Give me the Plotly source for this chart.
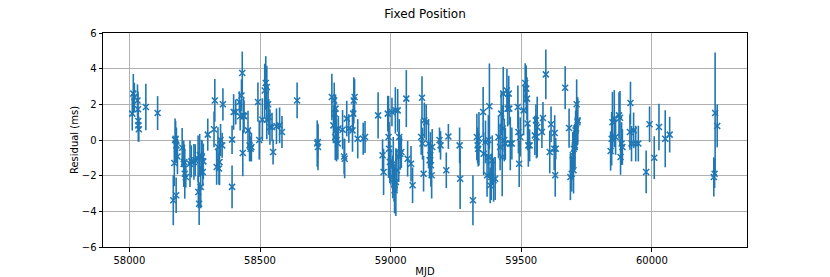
import plotly.graph_objects as go

# Observations: MJD, residual (ms), uncertainty (ms)
mjd = [58011, 58015, 58019, 58031, 58033, 58034, 58034, 58036, 58063, 58108,
       58168, 58172, 58175, 58179, 58180, 58184, 58177,
       58202, 58208, 58212, 58216, 58210,
       58232, 58237, 58247, 58252,
       58263, 58264, 58267, 58269, 58273, 58276, 58278, 58281, 58283,
       58300, 58327, 58324, 58334, 58339, 58343, 58345, 58349, 58355, 58358,
       58393, 58393, 58399, 58407, 58421, 58424, 58429, 58432, 58434, 58436, 58439,
       58454, 58460, 58464, 58467, 58492, 58497, 58509, 58518, 58522, 58526, 58526,
       58531, 58534, 58538, 58546, 58550, 58563, 58575, 58584, 58642,
       58719, 58721, 58722, 58775, 58781, 58784, 58786, 58788, 58789, 58791, 58793,
       58798, 58800, 58816, 58822, 58824, 58832, 58840, 58854, 58857, 58859, 58862,
       58874, 58895, 58902, 58952, 58969, 58973, 58989, 58992, 58994, 58997, 59001,
       59005, 59008, 59010, 59013, 59015, 59018, 59020, 59024, 59027, 59031, 59033,
       59037, 59041, 59060, 59065, 59078, 59084, 59117, 59120, 59122, 59126, 59129,
       59136, 59145, 59149, 59152, 59154, 59157, 59159, 59187, 59191, 59213, 59221,
       59264, 59266, 59315, 59330, 59333, 59335, 59338, 59354, 59356, 59363, 59369,
       59374, 59376, 59378, 59381, 59385, 59389, 59394, 59400, 59413, 59419, 59423,
       59427, 59429, 59431, 59435, 59439, 59445, 59448, 59452, 59454, 59458, 59464,
       59487, 59489, 59492, 59496, 59509, 59515, 59519, 59522, 59524, 59527, 59532,
       59552, 59556, 59558, 59561, 59579, 59583, 59594, 59609, 59614, 59626, 59628,
       59630, 59632, 59668, 59683, 59688, 59693, 59697, 59700, 59701, 59705, 59705,
       59708, 59710, 59712, 59715, 59716, 59842, 59846, 59849, 59856, 59861, 59874,
       59878, 59880, 59884, 59887, 59916, 59918, 59922, 59930, 59938, 59948,
       59978, 59991, 60009, 60027, 60051, 60068, 60237, 60240, 60242, 60250]
resid = [1.48, 2.60, 2.41, 2.22, 1.72, 1.07, 0.82, 0.60, 1.85, 1.51,
         -3.38, -1.29, 0.00, -3.10, -0.30, -0.92, 0.07,
         -0.43, -1.33, -1.89, -2.07, -1.23,
         -1.33, -1.20, -1.23, -1.14,
         -1.05, -2.92, -3.57, -0.86, -2.63, -0.99, -0.92, -1.79, -1.20,
         0.30, 2.22, 0.60, -1.51, -0.39, -1.60, -1.23, 0.00, -0.30, 2.00,
         -2.63, 0.02, 1.57, 1.57, 2.13, 1.33, 2.50, 3.76, -0.73, 1.38, 1.33,
         0.54, -0.30, -0.49, -0.40, 2.13, 0.00, 1.14, 2.78, 3.20, 2.97, 1.14,
         2.00, 1.29, 0.73, 0.73, -0.67, 0.77, 0.82, 0.45, 2.22,
         -0.20, -0.11, -0.39, 2.41, 0.82, 2.22, 1.48, 0.17, 1.76, 0.54, 0.00,
         -0.20, 0.64, 0.58, -0.92, -1.05, 1.20, 0.64, 0.54, 1.48, 2.22, 2.41,
         0.07, 0.07, 0.17, 1.38, -0.86, -1.79, 1.48, 0.17, -0.49, -1.23, -1.51,
         1.57, -2.07, -1.33, -2.45, -2.82, 1.66, -2.36, -1.70, 1.66, -0.95, 0.17,
         -0.77, -0.67, 2.32, -1.05, -1.33, -2.54, 0.17, 2.37, -0.20, -1.89, 1.10,
         1.00, -0.20, -1.14, -0.86, -1.42, -1.98, -0.39, 0.00, -0.30, -1.70, 0.20,
         -0.30, -2.17, -3.38, 0.17, -0.30, -0.49, 0.07, 1.57, -0.77, -0.11, -1.98,
         0.00, -0.95, 1.89, -2.54, -2.07, -1.14, -2.26, -2.17, 0.17, -0.39, 1.48,
         -0.95, 0.64, 2.60, 0.00, -0.20, 2.78, 1.76, 2.60, 1.76, -0.20, -0.20,
         1.85, 0.45, -1.33, 0.17, 1.66, 3.20, 2.88, 2.32, 0.92, -0.30, -0.30,
         0.26, 1.10, 0.17, 0.73, 0.45, 1.23, 3.68, -0.67, 0.88, -0.49, 0.39,
         -1.98, -0.49, 2.93, 0.67, -2.07, -1.89, -0.86, -1.70, -0.49, -0.39, -0.30,
         0.54, 0.64, 2.00, 1.00, 1.10, -0.62, 0.07, 1.00, 1.20, 0.17, 1.38,
         1.25, -0.95, -0.20, -0.39, 0.45, 2.07, -0.20, 0.54, -0.20, -0.20,
         -1.79, 0.88, -0.99, 0.73, 0.07, 0.30, -2.07, -1.89, 1.51, 0.79]
err = [0.95, 1.10, 0.80, 0.90, 1.00, 0.60, 0.90, 0.70, 1.30, 0.95,
       1.40, 1.30, 1.20, 1.00, 1.00, 1.00, 1.00,
       1.10, 1.30, 1.40, 0.60, 0.90,
       1.30, 0.90, 1.00, 0.90,
       1.30, 0.90, 1.20, 1.20, 1.20, 1.00, 0.90, 0.80, 1.00,
       0.90, 1.20, 1.00, 1.00, 1.10, 0.90, 1.30, 0.90, 0.70, 0.90,
       1.20, 0.80, 1.00, 0.70, 0.60, 0.80, 0.90, 1.20, 1.30, 1.00, 0.90,
       1.10, 0.90, 0.70, 0.80, 1.10, 1.10, 1.20, 1.50, 1.50, 1.20, 1.10,
       1.00, 1.00, 1.00, 0.80, 0.70, 1.00, 1.00, 0.90, 1.00,
       1.30, 0.90, 1.30, 1.30, 1.00, 1.00, 1.00, 1.30, 0.80, 1.30, 1.20,
       0.90, 0.70, 1.10, 1.00, 1.10, 1.00, 0.80, 1.20, 1.00, 1.30, 1.00,
       1.10, 0.90, 0.90, 1.30, 0.90, 1.30, 1.00, 2.30, 1.50, 1.20, 1.00,
       0.80, 1.20, 1.50, 1.00, 1.30, 1.30, 1.90, 1.20, 1.20, 1.40, 1.00,
       0.90, 0.90, 1.60, 1.00, 1.00, 1.00, 1.00, 1.20, 0.90, 1.00, 1.00,
       1.00, 1.30, 1.00, 1.30, 1.20, 1.30, 1.00, 0.70, 0.80, 1.00, 0.70,
       1.00, 1.70, 1.40, 1.30, 1.00, 1.00, 1.50, 1.40, 1.20, 1.20, 1.20,
       1.40, 1.20, 2.40, 1.00, 1.30, 1.40, 1.20, 1.20, 1.20, 1.30, 1.20,
       2.20, 1.30, 1.50, 1.20, 0.90, 1.20, 1.00, 1.00, 0.90, 1.50, 0.90,
       1.20, 1.20, 1.30, 1.10, 1.40, 1.10, 1.30, 1.20, 1.50, 1.20, 0.90,
       1.10, 0.90, 1.20, 1.70, 0.90, 0.90, 1.40, 1.20, 1.00, 1.20, 1.00,
       1.20, 0.60, 1.20, 1.10, 1.30, 1.00, 1.30, 1.30, 1.00, 1.30, 1.20,
       1.10, 1.20, 1.40, 1.30, 1.30, 1.10, 1.50, 1.70, 1.60, 1.00, 1.30,
       1.50, 1.00, 1.20, 1.00, 1.00, 1.20, 1.00, 1.00, 1.00, 1.00,
       1.20, 1.00, 1.20, 1.30, 1.60, 1.00, 1.10, 0.80, 3.40, 1.20]

x_ticks = [58000, 58500, 59000, 59500, 60000]
y_ticks = [-6, -4, -2, 0, 2, 4, 6]

blue = "#1f77b4"
fig = go.Figure(go.Scatter(
    x=mjd, y=resid, mode="markers",
    marker=dict(symbol="x-thin", size=6, color=blue, line=dict(color=blue, width=1.5)),
    error_y=dict(type="data", array=err, visible=True, color=blue, thickness=1.6, width=0),
    showlegend=False,
))

axis_common = dict(
    showline=True, linecolor="black", linewidth=1, mirror=True,
    ticks="outside", ticklen=3.5, tickwidth=0.8, tickcolor="black",
    showgrid=True, gridcolor="#b0b0b0", gridwidth=0.8,
    zeroline=False, automargin=False,
    tickfont=dict(family="DejaVu Sans", size=10, color="black"),
)
fig.update_xaxes(range=[57899, 60364], tickvals=x_ticks, ticktext=[str(v) for v in x_ticks],
                 title=dict(text="MJD", font=dict(family="DejaVu Sans", size=10, color="black"), standoff=4),
                 **axis_common)
fig.update_yaxes(range=[-6, 6], tickvals=y_ticks, ticktext=[str(v).replace("-", "\u2212") for v in y_ticks],
                 title=dict(text="Residual (ms)", font=dict(family="DejaVu Sans", size=10, color="black"), standoff=1),
                 **axis_common)
fig.update_layout(
    width=830, height=277,
    margin=dict(l=103, r=83, t=33, b=30, autoexpand=False),
    plot_bgcolor="white", paper_bgcolor="white",
    title=dict(text="Fixed Position", x=425/830, xanchor="center", y=1 - 14/277, yanchor="middle",
               font=dict(family="DejaVu Sans", size=12, color="black")),
)
fig.write_html("out.html", config={"displayModeBar": False},
               post_script="document.body.style.margin='0';document.body.style.overflow='hidden';")
